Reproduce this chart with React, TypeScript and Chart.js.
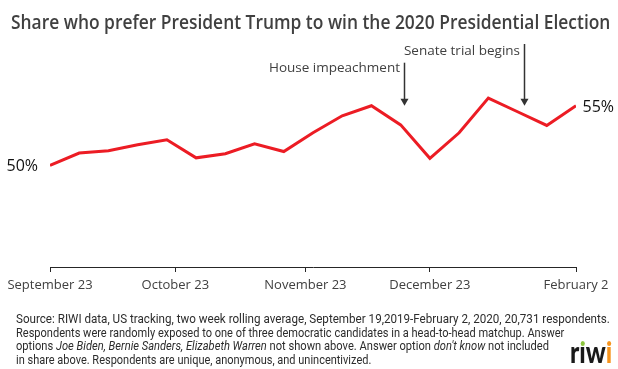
import React, { useEffect, useRef } from "react";
import { Chart, registerables } from "chart.js";

Chart.register(...registerables);

// ---- Data ----
const shareValues = [
  50.0, 51.04, 51.23, 51.73, 52.15, 50.64, 50.98, 51.82, 51.17, 52.74,
  54.16, 55.0, 53.4, 50.6, 52.74, 55.64, 54.5, 53.35, 55.0,
];
const tickPositions = [0, 4.29, 8.74, 13, 18];
const tickLabels = ["September 23", "October 23", "November 23", "December 23", "February 2"];
const eventLabels = ["House impeachment", "Senate trial begins"];
const eventPositions = [12.1, 16.21];
const eventArrowTipValue = 55;
const startLabel = "50%";
const endLabel = "55%";

const titleText = "Share who prefer President Trump to win the 2020 Presidential Election";
const footnoteLines: Array<Array<[string, boolean]>> = [
  [["Source: RIWI data, US tracking, two week rolling average, September 19,2019-February 2, 2020, 20,731 respondents.", false]],
  [["Respondents were randomly exposed to one of three democratic candidates in a head-to-head matchup. Answer", false]],
  [
    ["options ", false],
    ["Joe Biden, Bernie Sanders, Elizabeth Warren", true],
    [" not shown above. Answer option ", false],
    ["don't know", true],
    [" not included", false],
  ],
  [["in share above. Respondents are unique, anonymous, and unincentivized.", false]],
];

// layout constants
const footnoteWidths = [594, 548, 533, 355];
const eventArrowTops = [62.7, 44];
const eventLabelBaselines = [72.3, 55];

const annotatePlugin = {
  id: "annotate",
  afterDatasetsDraw(chart: any) {
    const ctx = chart.ctx;
    const meta = chart.getDatasetMeta(0);
    const first = meta.data[0];
    const last = meta.data[meta.data.length - 1];
    const xs = chart.scales.x;
    const ys = chart.scales.y;
    ctx.save();
    ctx.font = '16px "Open Sans"';
    ctx.fillStyle = "#111111";
    ctx.textBaseline = "alphabetic";
    ctx.textAlign = "right";
    ctx.fillText(startLabel, first.x - 12, first.y + 6);
    ctx.textAlign = "left";
    ctx.fillText(endLabel, last.x + 6.5, last.y + 6.5);

    const tip = ys.getPixelForValue(eventArrowTipValue);
    eventPositions.forEach((pos, i) => {
      const x = Math.round(xs.getPixelForValue(pos)) + 0.5;
      ctx.strokeStyle = "#333333";
      ctx.fillStyle = "#333333";
      ctx.lineWidth = 1.5;
      ctx.beginPath();
      ctx.moveTo(x, eventArrowTops[i]);
      ctx.lineTo(x, tip - 6);
      ctx.stroke();
      ctx.beginPath();
      ctx.moveTo(x - 4, tip - 7);
      ctx.lineTo(x + 4, tip - 7);
      ctx.lineTo(x, tip);
      ctx.closePath();
      ctx.fill();
      ctx.fillStyle = "#404040";
      ctx.font = '13.5px "Open Sans"';
      ctx.textAlign = "right";
      ctx.textBaseline = "alphabetic";
      ctx.fillText(eventLabels[i], x - 4.5, eventLabelBaselines[i]);
    });
    ctx.restore();
  },
};

export default function App() {
  const canvasRef = useRef<HTMLCanvasElement>(null);
  const wrapRef = useRef<HTMLDivElement>(null);

  useEffect(() => {
    document.body.style.margin = "0";
    const canvas = canvasRef.current!;
    const chart = new Chart(canvas, {
      type: "line",
      data: {
        datasets: [
          {
            data: shareValues.map((v, i) => ({ x: i, y: v })),
            borderColor: "#EC1C24",
            borderWidth: 3,
            pointRadius: 0,
            tension: 0,
            fill: false,
          },
        ],
      },
      options: {
        animation: false,
        responsive: false,
        devicePixelRatio: 1,
        layout: { padding: { left: 50, right: 42, top: 58, bottom: 0 } },
        plugins: { legend: { display: false }, tooltip: { enabled: false }, title: { display: false } },
        scales: {
          x: {
            type: "linear",
            min: 0,
            max: 18,
            afterBuildTicks: (s: any) => {
              s.ticks = tickPositions.map((v) => ({ value: v }));
            },
            afterFit: (s: any) => {
              s.height = 102;
            },
            grid: { drawOnChartArea: false, drawTicks: true, tickLength: 5, color: "#262626", lineWidth: 1 },
            border: { display: true, color: "#262626", width: 1 },
            ticks: {
              autoSkip: false,
              maxRotation: 0,
              padding: 5,
              color: "#404040",
              font: { family: '"Open Sans"', size: 13 },
              callback: (_v: any, i: number) => tickLabels[i],
            },
          },
          y: { display: false, min: 41.5, max: 59 },
        },
      },
      plugins: [annotatePlugin],
    } as any);

    const fit = () => {
      const els = wrapRef.current?.querySelectorAll<HTMLElement>("[data-fit]");
      els?.forEach((el) => {
        const t = Number(el.dataset.fit);
        const w = el.offsetWidth;
        if (w > 0) el.style.transform = `scaleX(${t / w})`;
      });
    };
    fit();
    return () => chart.destroy();
  }, []);

  const dot = (color: string) => (
    <span
      style={{
        position: "absolute",
        left: "50%",
        top: 4.4,
        width: 5,
        height: 5,
        marginLeft: -2.5,
        borderRadius: "50%",
        background: color,
      }}
    />
  );

  return (
    <div
      ref={wrapRef}
      style={{ position: "fixed", left: 0, top: 0, width: 618, height: 369, background: "#fff", overflow: "hidden" }}
    >
      <canvas ref={canvasRef} width={618} height={369} style={{ display: "block", width: 618, height: 369 }} />
      <div
        data-fit={599}
        style={{
          position: "absolute",
          left: 11,
          top: 12.2,
          fontFamily: '"Open Sans"',
          fontWeight: 600,
          fontSize: 20,
          lineHeight: "20px",
          color: "#404040",
          whiteSpace: "nowrap",
          transformOrigin: "left center",
        }}
      >
        {titleText}
      </div>
      {footnoteLines.map((line, i) => (
        <div
          key={i}
          data-fit={footnoteWidths[i]}
          style={{
            position: "absolute",
            left: 15.5,
            top: 312.3 + i * 13.4,
            fontFamily: "Roboto",
            fontSize: 13,
            lineHeight: "13px",
            color: "#2c2c2c",
            whiteSpace: "nowrap",
            transformOrigin: "left center",
          }}
        >
          {line.map(([txt, it], j) => (
            <span key={j} style={{ fontStyle: it ? "italic" : "normal" }}>
              {txt}
            </span>
          ))}
        </div>
      ))}
      <div
        data-fit={42}
        style={{
          position: "absolute",
          left: 570,
          top: 336.4,
          fontFamily: "Lato",
          fontWeight: 900,
          fontSize: 30,
          lineHeight: "30px",
          height: 30,
          color: "#1a1a1a",
          whiteSpace: "nowrap",
          transformOrigin: "left center",
        }}
      >
        <span>r</span>
        <span style={{ position: "relative", display: "inline-block" }}>
          ı{dot("#8DC63F")}
        </span>
        <span>w</span>
        <span style={{ position: "relative", display: "inline-block", color: "#F7941D" }}>
          ı{dot("#F7941D")}
        </span>
      </div>
    </div>
  );
}
